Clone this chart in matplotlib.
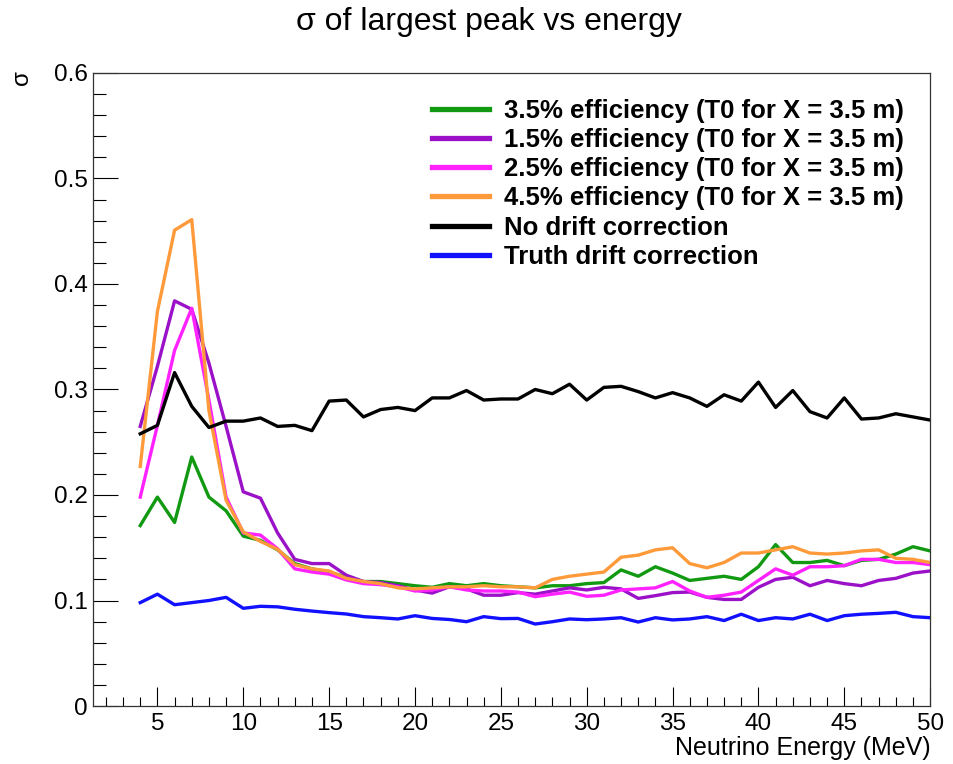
import matplotlib
matplotlib.use("Agg")
import matplotlib.pyplot as plt
from matplotlib.ticker import MultipleLocator
import numpy as np

# neutrino energy bins (MeV)
energy = np.arange(4, 51)

sigma_eff35 = [0.171, 0.198, 0.174, 0.236, 0.198, 0.185, 0.161, 0.157, 0.148, 0.135,
               0.130, 0.127, 0.122, 0.118, 0.118, 0.116, 0.114, 0.1125, 0.116, 0.114,
               0.116, 0.114, 0.113, 0.112, 0.114, 0.114, 0.116, 0.117, 0.129, 0.123,
               0.132, 0.126, 0.119, 0.121, 0.123, 0.120, 0.132, 0.153, 0.136, 0.136,
               0.138, 0.133, 0.138, 0.139, 0.144, 0.151, 0.147]
sigma_eff15 = [0.265, 0.322, 0.384, 0.376, 0.325, 0.265, 0.203, 0.197, 0.164, 0.139,
               0.135, 0.135, 0.124, 0.118, 0.117, 0.114, 0.110, 0.107, 0.113, 0.111,
               0.105, 0.105, 0.1075, 0.106, 0.109, 0.112, 0.110, 0.1125, 0.111, 0.102,
               0.1046, 0.1075, 0.108, 0.103, 0.101, 0.101, 0.1125, 0.120, 0.122, 0.114,
               0.119, 0.116, 0.114, 0.119, 0.121, 0.126, 0.128]
sigma_eff25 = [0.198, 0.266, 0.337, 0.377, 0.290, 0.198, 0.164, 0.162, 0.149, 0.130,
               0.127, 0.125, 0.1195, 0.116, 0.115, 0.113, 0.109, 0.110, 0.113, 0.110,
               0.109, 0.109, 0.108, 0.1036, 0.106, 0.108, 0.104, 0.105, 0.110, 0.111,
               0.112, 0.118, 0.109, 0.103, 0.105, 0.108, 0.119, 0.130, 0.124, 0.132,
               0.132, 0.133, 0.139, 0.139, 0.136, 0.136, 0.134]
sigma_eff45 = [0.227, 0.374, 0.451, 0.461, 0.280, 0.195, 0.165, 0.156, 0.1485, 0.134,
               0.130, 0.128, 0.121, 0.118, 0.116, 0.112, 0.111, 0.112, 0.113, 0.113,
               0.114, 0.113, 0.113, 0.112, 0.120, 0.123, 0.125, 0.127, 0.141, 0.143,
               0.148, 0.150, 0.135, 0.131, 0.136, 0.145, 0.145, 0.148, 0.151, 0.145,
               0.144, 0.145, 0.147, 0.148, 0.140, 0.139, 0.136]
sigma_nodrift = [0.258, 0.266, 0.316, 0.284, 0.264, 0.270, 0.270, 0.273, 0.265, 0.266,
                 0.261, 0.289, 0.290, 0.274, 0.281, 0.283, 0.280, 0.292, 0.292, 0.299,
                 0.290, 0.291, 0.291, 0.300, 0.296, 0.305, 0.290, 0.302, 0.303, 0.298,
                 0.292, 0.297, 0.292, 0.284, 0.295, 0.289, 0.307, 0.283, 0.299, 0.279,
                 0.273, 0.292, 0.272, 0.273, 0.277, 0.274, 0.271]
sigma_truth = [0.098, 0.106, 0.096, 0.098, 0.100, 0.103, 0.0926, 0.0945, 0.094, 0.0917,
               0.090, 0.0885, 0.0872, 0.0847, 0.0837, 0.0825, 0.0856, 0.083, 0.082, 0.0799,
               0.0847, 0.0828, 0.083, 0.0777, 0.0799, 0.0825, 0.0818, 0.0825, 0.0837, 0.0796,
               0.0837, 0.0816, 0.0825, 0.0847, 0.081, 0.087, 0.081, 0.0837, 0.0825, 0.087,
               0.081, 0.0856, 0.087, 0.0878, 0.0888, 0.0847, 0.0837]

labels = ["3.5% efficiency (T0 for X = 3.5 m)",
          "1.5% efficiency (T0 for X = 3.5 m)",
          "2.5% efficiency (T0 for X = 3.5 m)",
          "4.5% efficiency (T0 for X = 3.5 m)",
          "No drift correction",
          "Truth drift correction"]
colors = ["#119911", "#9a11c8", "#ff22ff", "#ff9a3a", "#000000", "#1111ff"]
series = [sigma_eff35, sigma_eff15, sigma_eff25, sigma_eff45, sigma_nodrift, sigma_truth]

plt.rcParams['font.family'] = ['Liberation Sans', 'DejaVu Sans']

fig = plt.figure(figsize=(9.54, 7.64), dpi=100)
ax = fig.add_axes([0.0975, 0.0759, 0.8775, 0.8286])

for y, c, lab in zip(series, colors, labels):
    ax.plot(energy, y, color=c, lw=2.4, label=lab)

ax.set_xlim(1.25, 50)
ax.set_ylim(0, 0.6)
ax.xaxis.set_major_locator(MultipleLocator(5))
ax.xaxis.set_minor_locator(MultipleLocator(1))
ax.yaxis.set_major_locator(MultipleLocator(0.1))
ax.yaxis.set_minor_locator(MultipleLocator(0.02))
ax.set_yticks(np.arange(0, 0.61, 0.1))
ax.set_yticklabels(["0", "0.1", "0.2", "0.3", "0.4", "0.5", "0.6"])

ax.tick_params(axis='x', which='major', direction='in', length=13.5, width=0.8,
               labelsize=17.5, pad=5, top=False)
ax.tick_params(axis='x', which='minor', direction='in', length=6.8, width=0.8, top=False)
ax.tick_params(axis='y', which='major', direction='in', length=18, width=0.8,
               labelsize=17.5, pad=4, right=False)
ax.tick_params(axis='y', which='minor', direction='in', length=9, width=0.8, right=False)
for s in ax.spines.values():
    s.set_linewidth(0.9)
    s.set_color("#333333")

fig.text(0.512, 0.971, "σ of largest peak vs energy", ha='center', va='center', fontsize=23)
fig.text(0.975, 0.021, "Neutrino Energy (MeV)", ha='right', va='center', fontsize=18)
fig.text(0.023, 0.908, "σ", ha='center', va='top', rotation=90, fontsize=17.5)

leg = ax.legend(loc='upper left', bbox_to_anchor=(0.393, 0.975), frameon=False,
                prop={'weight': 'bold', 'size': 18.5}, handlelength=2.2,
                handletextpad=0.6, labelspacing=0.2, borderaxespad=0)
for h in leg.get_lines():
    h.set_linewidth(3.8)

fig.savefig("out.png", dpi=100)
